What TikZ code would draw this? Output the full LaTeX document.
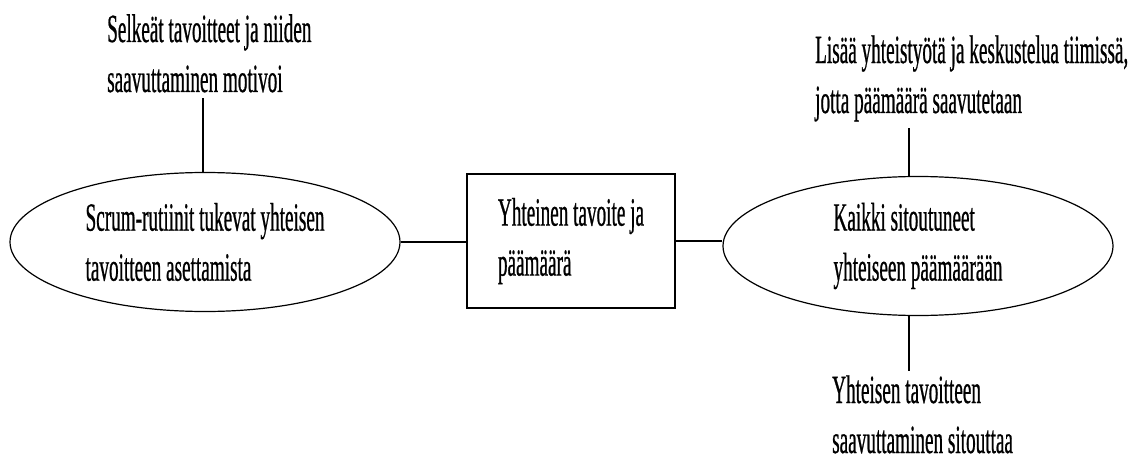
\documentclass[tikz,border=0pt]{standalone}
\usepackage{fontspec}
\setmainfont{Liberation Serif}[FakeStretch=0.48,FakeBold=0.6]
\usetikzlibrary{shapes.geometric}
\begin{document}
\begin{tikzpicture}[x=1pt,y=-1pt,
  txt/.style={font=\fontsize{40}{50}\selectfont, align=left, inner sep=0pt},
  bubble/.style={txt, draw, ellipse, line width=1.2pt, minimum width=390pt, minimum height=139pt},
  goalbox/.style={txt, draw, rectangle, line width=1.6pt, minimum width=208pt, minimum height=134pt},
  link/.style={line width=1.2pt}]
  \useasboundingbox[fill=white] (0,0) rectangle (1144,460);

  % central goal
  \node[goalbox] (goal) at (571,241) {Yhteinen tavoite ja\\päämäärä};

  % left and right ellipses
  \node[bubble] (left) at (205,242) {Scrum-rutiinit tukevat yhteisen\\tavoitteen asettamista};
  \node[bubble] (right) at (918,246) {Kaikki sitoutuneet\\yhteiseen päämäärään};

  % free labels (anchored at the baseline of their last line)
  \node[txt, anchor=base west] (motiv) at (107,92) {Selkeät tavoitteet ja niiden\\saavuttaminen motivoi};
  \node[txt, anchor=base west] (yhteis) at (815,113) {Lisää yhteistyötä ja keskustelua tiimissä,\\jotta päämäärä saavutetaan};
  \node[txt, anchor=base west] (sitout) at (832,453) {Yhteisen tavoitteen\\saavuttaminen sitouttaa};

  % connectors
  \draw[link] (left.east) -- (left.east -| goal.west);
  \draw[link] (goal.east) -- (goal.east -| right.west);
  \draw[link] ([xshift=-2pt]left.north) -- ([xshift=-2pt,yshift=-5pt]left.north |- motiv.south);
  \draw[link] ([xshift=-9pt]right.north) -- ([xshift=-9pt,yshift=-6pt]right.north |- yhteis.south);
  \draw[link] ([xshift=-9pt]right.south) -- ([xshift=-9pt,yshift=4pt]right.south |- sitout.north);
\end{tikzpicture}
\end{document}
